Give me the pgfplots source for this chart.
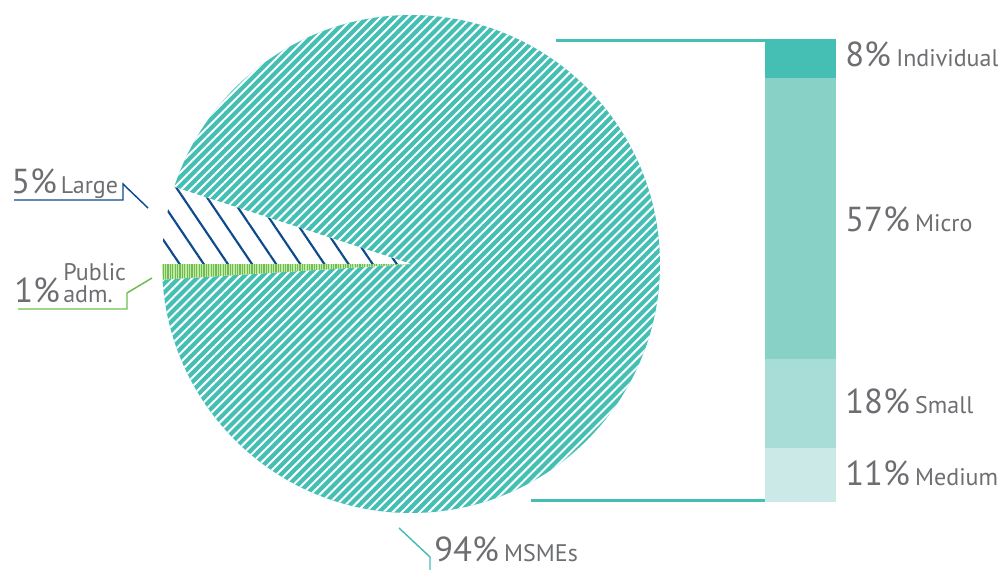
\documentclass[border=0pt]{standalone}
\usepackage{pgfplots}
\pgfplotsset{compat=1.18}
\usepackage{fontspec}
\setmainfont{PT Sans}
\usetikzlibrary{patterns.meta}
\definecolor{teal1}{HTML}{45BFB4}
\definecolor{micro}{HTML}{88D1C7}
\definecolor{small}{HTML}{A8DDD7}
\definecolor{medium}{HTML}{CBE9E7}
\definecolor{dblue}{HTML}{0D4A8E}
\definecolor{lgreen}{HTML}{6CC04A}
\definecolor{lgreenbg}{HTML}{C6E6B0}
\definecolor{txt}{HTML}{6D6E71}
% pie values (percent)
\def\vLarge{5}
\def\vPublic{1}
\def\vMSME{94}
\newcommand{\bignum}[1]{{\fontsize{26}{26}\selectfont #1}}
\newcommand{\sm}[1]{{\fontsize{18}{18}\selectfont #1}}
\begin{document}
\begin{tikzpicture}
\begin{axis}[
  scale only axis, width=748.5pt, height=427.5pt,
  xmin=0, xmax=998, ymin=0, ymax=570, y dir=reverse,
  hide axis, clip=false]
  \addplot[draw=none] coordinates {(0,0) (998,570)};
  \pgfmathsetmacro{\aPubS}{180}
  \pgfmathsetmacro{\aPubE}{180+3.6*\vPublic}
  \pgfmathsetmacro{\aLargeS}{180-3.6*\vLarge}
  \pgfmathsetmacro{\aMsE}{\aPubE+3.6*\vMSME}
  % MSMEs
  \fill[teal1] (axis cs:411,264) -- ++(\aPubE:186.75pt) arc[start angle=\aPubE, end angle=\aMsE, radius=186.75pt] -- cycle;
  \fill[pattern={Lines[angle=45, distance=4.8pt, line width=1.5pt]}, pattern color=white] (axis cs:411,264) -- ++(\aPubE:186.75pt) arc[start angle=\aPubE, end angle=\aMsE, radius=186.75pt] -- cycle;
  % Large
  \fill[white] (axis cs:411,264) -- ++(\aLargeS:186.75pt) arc[start angle=\aLargeS, end angle=\aPubS, radius=186.75pt] -- cycle;
  \fill[pattern={Lines[angle=-56, distance=15pt, line width=1.6pt]}, pattern color=dblue] (axis cs:411,264) -- ++(\aLargeS:186.75pt) arc[start angle=\aLargeS, end angle=\aPubS, radius=186.75pt] -- cycle;
  % Public adm
  \fill[lgreenbg] (axis cs:411,264) -- ++(\aPubS:186.75pt) arc[start angle=\aPubS, end angle=\aPubE, radius=186.75pt] -- cycle;
  \fill[pattern={Lines[angle=90, distance=1.8pt, line width=0.8pt]}, pattern color=lgreen] (axis cs:411,264) -- ++(\aPubS:186.75pt) arc[start angle=\aPubS, end angle=\aPubE, radius=186.75pt] -- cycle;
  % connectors
  \draw[teal1, line width=2.2pt] (axis cs:556,40.5) -- (axis cs:766,40.5);
  \draw[teal1, line width=2.2pt] (axis cs:531,500.5) -- (axis cs:766,500.5);
  \draw[dblue, line width=1.1pt] (axis cs:14,200) -- (axis cs:123,200) -- (axis cs:123,184) -- (axis cs:148,208);
  \draw[lgreen, line width=1.1pt] (axis cs:18,309) -- (axis cs:127,309) -- (axis cs:127,293) -- (axis cs:152,278);
  \draw[teal1, line width=1.1pt] (axis cs:399,528) -- (axis cs:430,557) -- (axis cs:430,572);
  % labels
  \node[anchor=base west, inner sep=0, text=txt] at (axis cs:845,67) {\bignum{8\%}\hspace{4pt}\sm{Individual}};
  \node[anchor=base west, inner sep=0, text=txt] at (axis cs:845,231) {\bignum{57\%}\hspace{4pt}\sm{Micro}};
  \node[anchor=base west, inner sep=0, text=txt] at (axis cs:845,413) {\bignum{18\%}\hspace{4pt}\sm{Small}};
  \node[anchor=base west, inner sep=0, text=txt] at (axis cs:845,485) {\bignum{11\%}\hspace{4pt}\sm{Medium}};
  \node[anchor=base west, inner sep=0, text=txt] at (axis cs:11,194) {\bignum{5\%}\hspace{3pt}\sm{Large}};
  \node[anchor=base west, inner sep=0, text=txt] at (axis cs:14,302) {\bignum{1\%}};
  \node[anchor=base west, inner sep=0, text=txt, text depth=0pt] at (axis cs:63,280) {\sm{Public}};
  \node[anchor=base west, inner sep=0, text=txt, text height=9pt] at (axis cs:63,302) {\sm{adm.}};
  \node[anchor=base west, inner sep=0, text=txt, text depth=0pt] at (axis cs:434,561) {\bignum{94\%}\hspace{4pt}\sm{MSMEs}};
\end{axis}
\begin{axis}[
  at={(573.75pt,51pt)}, anchor=south west,
  scale only axis, width=53.25pt, height=347.25pt,
  ybar stacked, bar width=53.25pt,
  xmin=-0.5, xmax=0.5, ymin=0, ymax=94, hide axis]
  \addplot[fill=medium, draw=none] coordinates {(0,11)};
  \addplot[fill=small, draw=none] coordinates {(0,18)};
  \addplot[fill=micro, draw=none] coordinates {(0,57)};
  \addplot[fill=teal1, draw=none] coordinates {(0,8)};
\end{axis}
\pgfresetboundingbox
\path (0,0) rectangle (748.5pt,427.5pt);
\end{tikzpicture}
\end{document}
